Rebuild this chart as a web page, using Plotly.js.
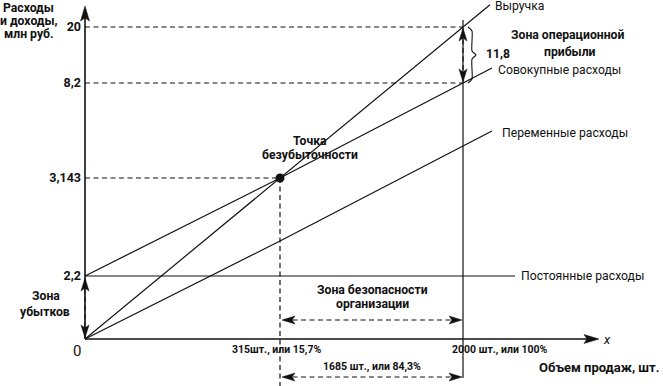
<!DOCTYPE html>
<html><head><meta charset="utf-8">
<script src="https://cdn.plot.ly/plotly-3.0.1.min.js"></script>
<style>html,body{margin:0;padding:0;background:#fff}</style>
</head><body><div id="chart" style="width:663px;height:386px"></div>
<script>
// ---- data ----
const volumes = [0, 315, 2000];                    // объем продаж, шт.
const volumeLabels = ['0', '315шт., или 15,7%', '2000 шт., или 100%'];
const revenue = [0, 3.143, 20];                    // выручка, млн руб.
const totalCosts = [2.2, 3.143, 8.2];              // совокупные расходы
const fixedCosts = [2.2, 2.2, 2.2];                // постоянные расходы
const variableCosts = [0, 0.943, 6.0];             // переменные расходы
const yTickValues = [2.2, 3.143, 8.2, 20];
const yTickLabels = ['2,2', '3,143', '8,2', '20'];
const lineNames = ['Выручка', 'Совокупные расходы', 'Переменные расходы', 'Постоянные расходы'];
const profitLabel = '11,8';
const safetyLabel = '1685 шт., или 84,3%';

// ---- schematic (not-to-scale) placement of the labelled values ----
const schemeX = {v: [0, 315, 2000], p: [0, 195, 378]};
const schemeY = {v: [0, 2.2, 3.143, 8.2, 20], p: [0, 63, 161, 256, 312]};
function interp(val, s) {
  const v = s.v, p = s.p;
  let i = 0;
  while (i < v.length - 2 && val > v[i + 1]) i++;
  return p[i] + (val - v[i]) * (p[i + 1] - p[i]) / (v[i + 1] - v[i]);
}
const sx = v => interp(v, schemeX);
const sy = v => interp(v, schemeY);
function extend(xs, ys, extra) {
  const n = xs.length, k = (ys[n - 1] - ys[n - 2]) / (xs[n - 1] - xs[n - 2]);
  return [xs.concat([xs[n - 1] + extra]), ys.concat([ys[n - 1] + k * extra])];
}

const X = volumes.map(sx);
const revY = revenue.map(sy);
const totY = totalCosts.map(sy);
const fixY = fixedCosts.map(sy);
const varY = variableCosts.map((v, i) => sy(v + fixedCosts[i]) - sy(fixedCosts[i]));
const xBE = X[1], yBE = sy(revenue[1]), xEnd = X[2];

const BLACK = '#111';
const FONT = 'Roboto';
const traces = [];
function line(xs, ys, opts) {
  traces.push(Object.assign({type: 'scatter', mode: 'lines', x: xs, y: ys, hoverinfo: 'skip',
    showlegend: false, line: {color: BLACK, width: 1.2}}, opts || {}));
}
const DASH = {color: BLACK, width: 1.2, dash: '5px,3.5px'};

// main lines
let r = extend(X, revY, 27); line(r[0], r[1]);
r = extend(X, totY, 29); line(r[0], r[1]);
r = extend(X, varY, 29); line(r[0], r[1]);
line([X[0], 430], [fixY[0], fixY[2]]);

// axes
line([0, 0], [0, 325], {line: {color: BLACK, width: 1.6}});
line([0, 505], [0, 0], {line: {color: BLACK, width: 1.6}});

// guide lines
line([0, xEnd, null, 0, xEnd, null, 0, xBE], [sy(revenue[2]), sy(revenue[2]), null, sy(totalCosts[2]), sy(totalCosts[2]), null, yBE, yBE], {line: DASH});
line([xBE, xBE], [yBE, -47], {line: DASH});
line([xEnd, xEnd], [319, -39]);

// dimension arrows (dashed shafts)
line([xBE + 4, xEnd - 4], [19, 19], {line: DASH});
line([xBE + 4, xEnd - 4], [-38, -38], {line: DASH});
line([0, 0], [fixY[0] - 4, 4], {line: DASH});
line([xEnd, xEnd], [sy(revenue[2]) - 4, sy(totalCosts[2]) + 4], {line: DASH});

// arrow heads
function head(tx, ty, dx, dy, len, half, notch) {
  len = len || 13; half = half || 4; notch = notch || 3;
  const px = -dy, py = dx;
  const bx = tx - dx * len, by = ty - dy * len;
  const nx = tx - dx * (len - notch), ny = ty - dy * (len - notch);
  traces.push({type: 'scatter', mode: 'lines', fill: 'toself', fillcolor: BLACK, hoverinfo: 'skip', showlegend: false,
    line: {color: BLACK, width: 0.5},
    x: [tx, bx + px * half, nx, bx - px * half, tx], y: [ty, by + py * half, ny, by - py * half, ty]});
}
head(0, 333, 0, 1, 15, 4.5, 3);
head(514, 0, 1, 0, 15, 4.5, 3);
head(xBE + 2, 19, -1, 0); head(xEnd - 1, 19, 1, 0);
head(xBE + 2, -38, -1, 0); head(xEnd - 1, -38, 1, 0);
head(0, fixY[0] - 2, 0, 1); head(0, 1, 0, -1);
head(xEnd, sy(revenue[2]) - 1, 0, 1); head(xEnd, sy(totalCosts[2]) + 1, 0, -1);

// brace for operating profit
const bt = sy(revenue[2]), bb = sy(totalCosts[2]), bm = (bt + bb) / 2;
traces.push({type: 'scatter', mode: 'lines', hoverinfo: 'skip', showlegend: false,
  line: {color: BLACK, width: 1.1, shape: 'spline', smoothing: 0.6},
  x: [xEnd + 5, xEnd + 9, xEnd + 9, xEnd + 13, xEnd + 9, xEnd + 9, xEnd + 5],
  y: [bt, bt - 4, bm + 4, bm, bm - 4, bb + 4, bb]});

// break-even point
traces.push({type: 'scatter', mode: 'markers', x: [xBE], y: [yBE], hoverinfo: 'skip', showlegend: false,
  marker: {color: BLACK, size: 9}});

// ---- annotations ----
const ann = [];
function txt(x, y, text, o, size) {
  ann.push(Object.assign({x: x, y: y, xref: 'x', yref: 'y', text: text, showarrow: false,
    font: {family: FONT, size: size || 12.2, color: BLACK}, xanchor: 'center', yanchor: 'middle'}, o || {}));
}
const B = s => '<b>' + s + '</b>';
txt(408, 333, lineNames[0], {xanchor: 'left'});
txt(411, 269, lineNames[1], {xanchor: 'left'});
txt(415, 206, lineNames[2], {xanchor: 'left'});
txt(434, 63, lineNames[3], {xanchor: 'left'});
txt(482, 304, B('Зона операционной'));
txt(485, 287, B('прибыли'));
txt(399, 285, B(profitLabel), {xanchor: 'left'});
txt(225, 198, B('Точка'));
txt(225, 184, B('безубыточности'));
txt(287, 49, B('Зона безопасности'));
txt(287, 35, B('организации'));
txt(-39, 43, B('Зона'));
txt(-40, 27, B('убытков'));
txt(-8, -12, volumeLabels[0], {}, 15);
txt(191.5, -10, B(volumeLabels[1]), {}, 10.5);
txt(415, -10, B(volumeLabels[2]), {}, 10.5);
txt(287, -27, B(safetyLabel), {}, 10.5);
txt(577, -28, B('Объем продаж, шт.'), {xanchor: 'right'}, 13);
txt(522, 0, '<i>x</i>', {}, 13);
txt(-57, 331.5, B('Расходы'));
txt(-56, 318.5, B('и доходы,'));
txt(-56, 305.5, B('млн руб.'));

const layout = {
  width: 663, height: 386, margin: {l: 0, r: 0, t: 0, b: 0},
  paper_bgcolor: '#fff', plot_bgcolor: '#fff', showlegend: false,
  xaxis: {range: [-85, 578], visible: false, fixedrange: true},
  yaxis: {range: [-47, 339], anchor: 'free', position: 85 / 663, showgrid: false, zeroline: false,
    showline: false, ticks: '', tickvals: yTickValues.map(sy), ticktext: yTickLabels.map(B),
    ticklabelstandoff: 4, tickfont: {family: FONT, size: 12.5, color: BLACK}, fixedrange: true},
  annotations: ann
};
Plotly.newPlot('chart', traces, layout, {staticPlot: true, displayModeBar: false});
</script></body></html>
